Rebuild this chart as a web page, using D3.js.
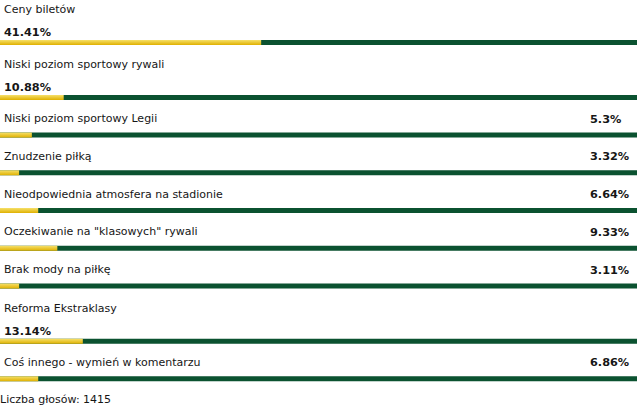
<!DOCTYPE html>
<html>
<head>
<meta charset="utf-8">
<script src="https://cdn.jsdelivr.net/npm/d3@7"></script>
<style>
  html, body { margin: 0; padding: 0; background: #fff; }
  svg text { font-family: "DejaVu Sans", Verdana, sans-serif; font-size: 11px; fill: #161616; }
  svg text.pct { font-weight: bold; font-size: 11.3px; }
</style>
</head>
<body>
<div id="poll"></div>
<script>
var answers = [
  'Ceny biletów',
  'Niski poziom sportowy rywali',
  'Niski poziom sportowy Legii',
  'Znudzenie piłką',
  'Nieodpowiednia atmosfera na stadionie',
  'Oczekiwanie na "klasowych" rywali',
  'Brak mody na piłkę',
  'Reforma Ekstraklasy',
  'Coś innego - wymień w komentarzu'
];
var percents = [41.41, 10.88, 5.3, 3.32, 6.64, 9.33, 3.11, 13.14, 6.86];
var pctLabels = ['41.41%', '10.88%', '5.3%', '3.32%', '6.64%', '9.33%', '3.11%', '13.14%', '6.86%'];
var totalVotes = 1415;

(function(){
  var width = 640, height = 410;
  var barW = 637, barH = 5;

  var svg = d3.select('#poll').append('svg')
    .attr('width', width)
    .attr('height', height);

  var grad = svg.append('defs').append('linearGradient')
    .attr('id', 'gold')
    .attr('x1', 0).attr('y1', 0).attr('x2', 0).attr('y2', 1);
  grad.append('stop').attr('offset', '0%').attr('stop-color', '#f6e06a');
  grad.append('stop').attr('offset', '100%').attr('stop-color', '#dfb000');

  // widget rounds width down to whole percent
  var x = d3.scaleLinear().domain([0, 100]).range([0, barW]);

  // rows with a big result put the number under the label
  var y0 = 0;
  var rows = answers.map(function(a, i){
    var wide = percents[i] >= 10;
    var r = { label: a, pct: percents[i], txt: pctLabels[i], wide: wide, top: y0 };
    y0 += wide ? 55 : 37.75;
    return r;
  });

  var g = svg.selectAll('g.row').data(rows).enter().append('g')
    .attr('class', 'row')
    .attr('transform', function(d){ return 'translate(0,' + d.top + ')'; });

  g.append('text')
    .attr('x', 4)
    .attr('y', function(d){ return d.wide ? 13 : 12; })
    .text(function(d){ return d.label; });

  g.append('text')
    .attr('class', 'pct')
    .attr('x', function(d){ return d.wide ? 4 : 590; })
    .attr('y', function(d){ return d.wide ? 36 : 12.5; })
    .text(function(d){ return d.txt; });

  var barY = function(d){ return d.wide ? 40 : 22.5; };

  g.append('rect')
    .attr('x', 0)
    .attr('y', barY)
    .attr('width', barW)
    .attr('height', barH)
    .attr('fill', '#0b5230');

  g.append('rect')
    .attr('x', 0)
    .attr('y', barY)
    .attr('width', function(d){ return x(Math.floor(d.pct)); })
    .attr('height', barH)
    .attr('fill', 'url(#gold)');

  svg.append('text')
    .attr('x', 0)
    .attr('y', 403)
    .text('Liczba głosów: ' + totalVotes);
})();
</script>
</body>
</html>
